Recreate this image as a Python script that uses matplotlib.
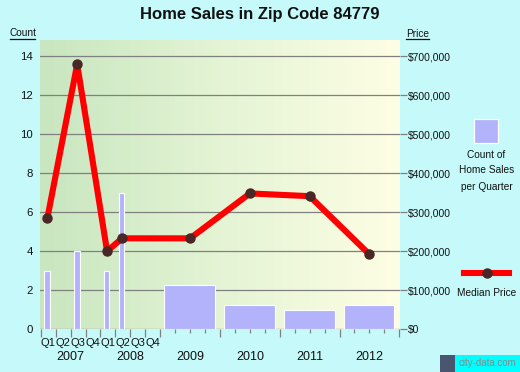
import numpy as np
import matplotlib
matplotlib.use("Agg")
import matplotlib.pyplot as plt
from matplotlib.patches import Rectangle
from matplotlib.lines import Line2D
from matplotlib.colors import LinearSegmentedColormap

# ---- data ----
title = "Home Sales in Zip Code 84779"
quarter_labels = ["Q1", "Q2", "Q3", "Q4"]
early_years = ["2007", "2008"]
late_years = ["2009", "2010", "2011", "2012"]
# quarterly counts 2007Q1..2008Q4
quarter_counts = [3, 0, 4, 0, 3, 7, 0, 0]
# average quarterly counts for yearly periods 2009..2012
year_counts = [2.25, 1.25, 1.0, 1.25]
# median prices: quarterly points (index in 2007Q1..2008Q4) and yearly points
price_q_idx = [0, 2, 4, 5]
price_q_vals = [284000, 679000, 200000, 233000]
price_y_vals = [233000, 348000, 341000, 192000]
count_ticks = [0, 2, 4, 6, 8, 10, 12, 14]
price_ticks = [0, 100000, 200000, 300000, 400000, 500000, 600000, 700000]

plt.rcParams['font.family'] = ['Liberation Sans', 'DejaVu Sans']

W, H = 520, 372
fig = plt.figure(figsize=(W / 100, H / 100), dpi=100)
bg = '#c6fafa'
fig.patch.set_facecolor(bg)

def fx(px):
    return px / W

def fy(py):
    return 1 - py / H

ax = fig.add_axes([fx(40), fy(329.3), fx(400) - fx(40), fy(40) - fy(329.3)])
ax.set_xlim(-0.05, 24.05)
ax.set_ylim(0, 14.82)

# gradient background
cmap = LinearSegmentedColormap.from_list('g', ['#c8e6c0', '#e4f4d4', '#fefee4'])
grad = np.linspace(0, 1, 256).reshape(1, -1)
ax.imshow(grad, extent=[-0.05, 24.05, 0, 14.82], aspect='auto', cmap=cmap, zorder=0)

for s in ax.spines.values():
    s.set_visible(False)

ax.set_yticks(count_ticks)
ax.set_yticklabels([str(t) for t in count_ticks])
ax.tick_params(axis='y', length=0, pad=5, labelsize=8.2, labelcolor='#111111')
for t in count_ticks:
    ax.axhline(t, color='#808080', lw=0.9, zorder=1)

# x ticks
major = list(range(0, 9)) + [12, 16, 20, 24]
minor = [9, 10, 11, 13, 14, 15, 17, 18, 19, 21, 22, 23]
ax.set_xticks(major)
ax.set_xticks(minor, minor=True)
ax.set_xticklabels([])
ax.tick_params(axis='x', which='major', length=6, width=0.9, color='#808080')
ax.tick_params(axis='x', which='minor', length=3, width=0.9, color='#808080')

bar_color = '#b3b3fb'
# quarterly bars
off = 0.42
qx = [i + off for i in range(len(quarter_counts))]
ax.bar(qx, quarter_counts, width=0.36, color=bar_color, edgecolor='white', linewidth=0.8, zorder=2)
# yearly bars
yx = [8 + 4 * i + 1.97 for i in range(len(year_counts))]
ax.bar(yx, year_counts, width=3.4, color=bar_color, edgecolor='white', linewidth=0.8, zorder=2)

# price axis
ax2 = ax.twinx()
ax2.set_ylim(0, 14.82 * 50000)
ax2.set_xlim(ax.get_xlim())
for s in ax2.spines.values():
    s.set_visible(False)
ax2.set_yticks(price_ticks)
ax2.set_yticklabels(['${:,.0f}'.format(t) for t in price_ticks])
ax2.tick_params(axis='y', length=5, width=0.9, color='#808080', pad=1, labelsize=7.5, labelcolor='#111111')

px_pts = [i + off + 0.02 for i in price_q_idx] + [8 + 4 * i + 2 for i in range(len(price_y_vals))]
py_pts = price_q_vals + price_y_vals
ax2.plot(px_pts, py_pts, color='#ff0000', lw=4.4, solid_joinstyle='round',
         solid_capstyle='round', zorder=3)
ax2.plot(px_pts, py_pts, 'o', color='#4a2626', ms=6.5, zorder=4)

def text_px(x, y, s, **kw):
    fig.text(fx(x), fy(y), s, **kw)

# x labels
for yi in range(2):
    for qi, ql in enumerate(quarter_labels):
        xpix = 40.7 + (4 * yi + qi + 0.5) * 14.94
        text_px(xpix, 342.7, ql, ha='center', va='center', fontsize=8, color='#111111')
for yi, yl in enumerate(early_years + late_years):
    xpix = 40.7 + (4 * yi + 2) * 14.94
    text_px(xpix, 356.7, yl, ha='center', va='center', fontsize=9, color='#111111')

# title
text_px(260, 15, title, ha='center', va='center', fontsize=12, fontweight='bold', color='#111111')

# axis captions underlined
text_px(22.5, 33.5, 'Count', ha='center', va='center', fontsize=7.3, color='#111111')
fig.add_artist(Line2D([fx(10), fx(35)], [fy(38.5), fy(38.5)], color='#111111', lw=0.9))
text_px(417.5, 34, 'Price', ha='center', va='center', fontsize=7.3, color='#111111')
fig.add_artist(Line2D([fx(406), fx(429)], [fy(39), fy(39)], color='#111111', lw=0.9))

# legend: count
fig.add_artist(Rectangle((fx(474.3), fy(143.3)), fx(24), 24 / H, facecolor=bar_color,
                         edgecolor='white', lw=0.9, transform=fig.transFigure))
for i, line in enumerate(['Count of', 'Home Sales', 'per Quarter']):
    text_px(486.5, 154.5 + i * 16, line, ha='center', va='center', fontsize=7.3, color='#111111')

# legend: median price
fig.add_artist(Line2D([fx(464), fx(509)], [fy(272.7), fy(272.7)], color='#ff0000', lw=4.4))
fig.add_artist(Line2D([fx(486.7)], [fy(272.7)], marker='o', color='#4a2626', ms=6.5, lw=0))
text_px(486.5, 292.5, 'Median Price', ha='center', va='center', fontsize=7.3, color='#111111')

# logo
fig.add_artist(Rectangle((fx(455), 0), fx(65), 17 / H, facecolor='#00ffff', edgecolor='none',
                         transform=fig.transFigure))
fig.add_artist(Rectangle((fx(440), 0), fx(15), 17 / H, facecolor='#4a5570', edgecolor='none',
                         transform=fig.transFigure))
text_px(487.5, 363.5, 'city-data.com', ha='center', va='center', fontsize=7, color='#8a8a8a')

fig.savefig('out.png', dpi=100, facecolor=bg)
